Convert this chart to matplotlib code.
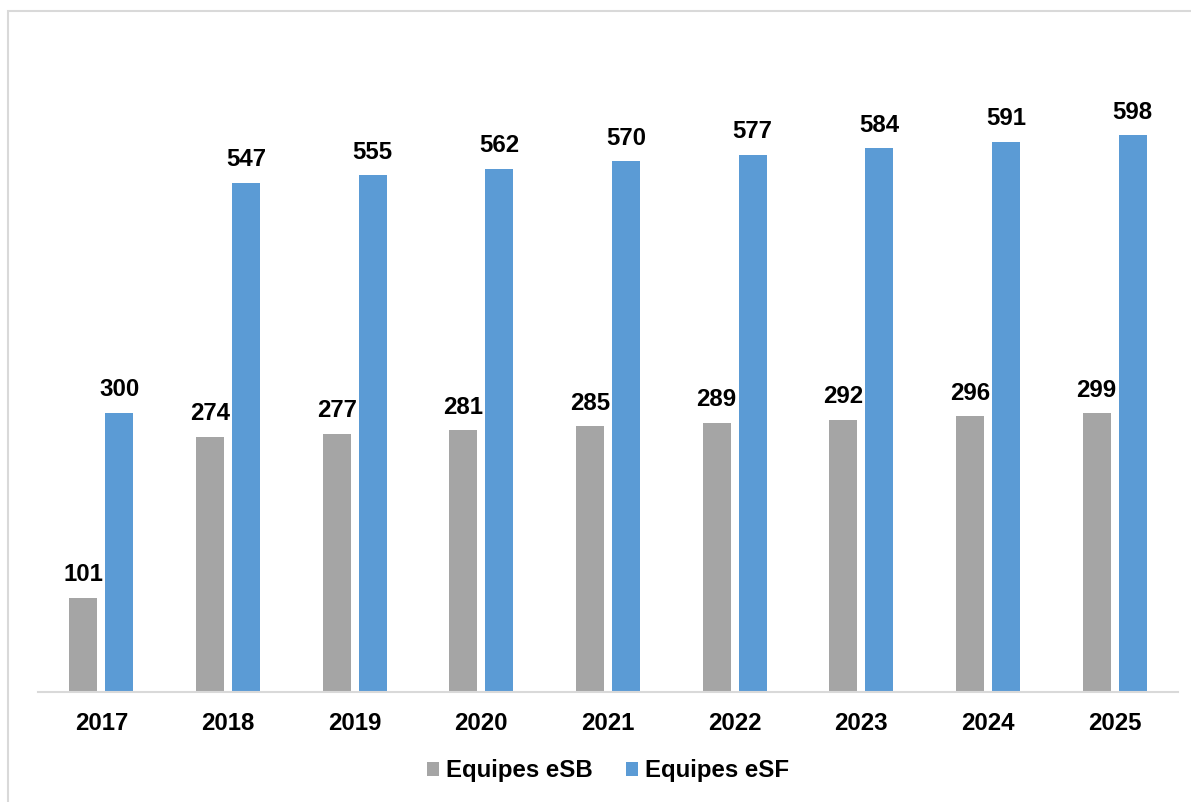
import numpy as np
import matplotlib.pyplot as plt
from matplotlib.patches import Rectangle

years = ['2017', '2018', '2019', '2020', '2021', '2022', '2023', '2024', '2025']
esb = [101, 274, 277, 281, 285, 289, 292, 296, 299]
esf = [300, 547, 555, 562, 570, 577, 584, 591, 598]

plt.rcParams['font.family'] = ['Liberation Sans', 'DejaVu Sans']
plt.rcParams['font.weight'] = 'bold'

W, H = 1191, 802
fig = plt.figure(figsize=(W / 100, H / 100), dpi=100)

# axes placed in pixel terms
left, right, bottom, top = 38, 1178, 691.5, 40.6
ax = fig.add_axes([left / W, 1 - bottom / H, (right - left) / W, (bottom - top) / H])

x = np.arange(len(years))
bw = 0.221
off = 0.142
gray = '#A5A5A5'
blue = '#5B9BD5'
fs = 17.3

b1 = ax.bar(x - off, esb, bw, color=gray, label='Equipes eSB')
b2 = ax.bar(x + off, esf, bw, color=blue, label='Equipes eSF')

for bars, vals in [(b1, esb), (b2, esf)]:
    for r, v in zip(bars, vals):
        ax.annotate(str(v), (r.get_x() + r.get_width() / 2, r.get_height()),
                    xytext=(0, 12), textcoords='offset points',
                    ha='center', va='baseline', fontsize=fs, fontweight='bold')

ax.set_xlim(-0.5, len(years) - 0.5)
ax.set_ylim(0, 700)
ax.set_xticks(x)
ax.set_xticklabels(years, fontsize=fs, fontweight='bold')
ax.tick_params(axis='x', length=0, pad=14.5)
ax.set_yticks([])
for s in ['left', 'right', 'top']:
    ax.spines[s].set_visible(False)
ax.spines['bottom'].set_color('#D9D9D9')
ax.spines['bottom'].set_linewidth(1.5)

fig.legend(loc='center', bbox_to_anchor=(608 / W, 1 - 771 / H), ncol=2,
           frameon=False, fontsize=fs, handlelength=0.5, handleheight=0.5,
           handletextpad=0.3, columnspacing=1.4)

# chart border (only left and top edges fall inside the image)
fig.patches.append(Rectangle((8 / W, -0.1), 1.2, 1.1 - 11 / H,
                             transform=fig.transFigure, fill=False,
                             edgecolor='#D9D9D9', linewidth=1.5))

fig.savefig('out.png', dpi=100)
